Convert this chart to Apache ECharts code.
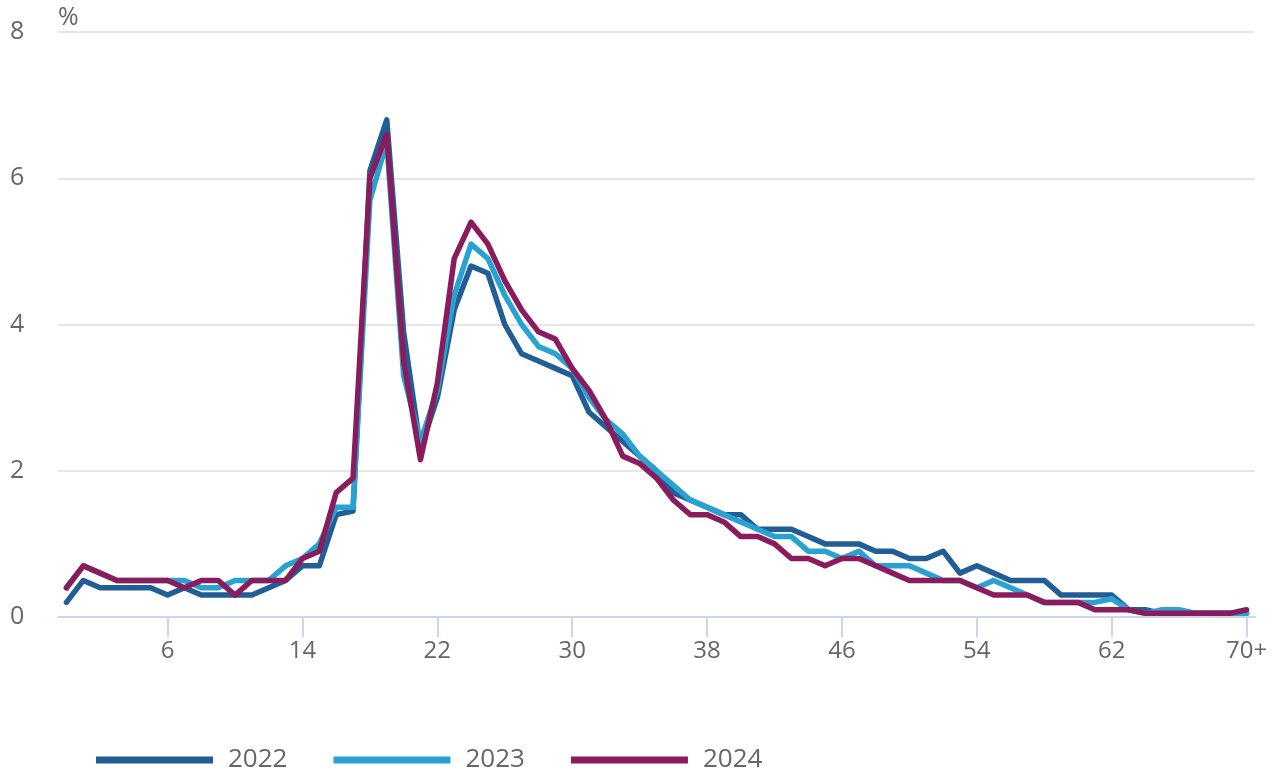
<!DOCTYPE html>
<html>
<head>
<meta charset="utf-8">
<title>Age distribution</title>
<script src="https://cdn.jsdelivr.net/npm/echarts@6/dist/echarts.min.js"></script>
<style>
  html, body { margin: 0; padding: 0; background: #fff; }
  #chart { width: 1276px; height: 775px; }
</style>
</head>
<body>
<div id="chart"></div>
<script>
// ---- data ----
const ages = [
  '0', '1', '2', '3', '4', '5', '6', '7', '8', '9',
  '10', '11', '12', '13', '14', '15', '16', '17', '18', '19',
  '20', '21', '22', '23', '24', '25', '26', '27', '28', '29',
  '30', '31', '32', '33', '34', '35', '36', '37', '38', '39',
  '40', '41', '42', '43', '44', '45', '46', '47', '48', '49',
  '50', '51', '52', '53', '54', '55', '56', '57', '58', '59',
  '60', '61', '62', '63', '64', '65', '66', '67', '68', '69',
  '70+'
];

const years = ['2022', '2023', '2024'];

const v2022 = [
  0.2, 0.5, 0.4, 0.4, 0.4, 0.4, 0.3, 0.4, 0.3, 0.3,
  0.3, 0.3, 0.4, 0.5, 0.7, 0.7, 1.4, 1.45, 6.1, 6.8,
  3.9, 2.3, 3.0, 4.2, 4.8, 4.7, 4.0, 3.6, 3.5, 3.4,
  3.3, 2.8, 2.6, 2.4, 2.2, 2.0, 1.7, 1.6, 1.5, 1.4,
  1.4, 1.2, 1.2, 1.2, 1.1, 1.0, 1.0, 1.0, 0.9, 0.9,
  0.8, 0.8, 0.9, 0.6, 0.7, 0.6, 0.5, 0.5, 0.5, 0.3,
  0.3, 0.3, 0.3, 0.1, 0.1, 0.05, 0.05, 0.05, 0.05, 0.05,
  0.05
];

const v2023 = [
  0.4, 0.7, 0.6, 0.5, 0.5, 0.5, 0.5, 0.5, 0.4, 0.4,
  0.5, 0.5, 0.5, 0.7, 0.8, 1.0, 1.5, 1.5, 5.7, 6.5,
  3.3, 2.4, 3.1, 4.4, 5.1, 4.9, 4.4, 4.0, 3.7, 3.6,
  3.4, 3.0, 2.7, 2.5, 2.2, 2.0, 1.8, 1.6, 1.5, 1.4,
  1.3, 1.2, 1.1, 1.1, 0.9, 0.9, 0.8, 0.9, 0.7, 0.7,
  0.7, 0.6, 0.5, 0.5, 0.4, 0.5, 0.4, 0.3, 0.2, 0.2,
  0.2, 0.2, 0.25, 0.1, 0.05, 0.1, 0.1, 0.05, 0.05, 0.05,
  0.05
];

const v2024 = [
  0.4, 0.7, 0.6, 0.5, 0.5, 0.5, 0.5, 0.4, 0.5, 0.5,
  0.3, 0.5, 0.5, 0.5, 0.8, 0.9, 1.7, 1.9, 6.0, 6.6,
  3.5, 2.15, 3.2, 4.9, 5.4, 5.1, 4.6, 4.2, 3.9, 3.8,
  3.4, 3.1, 2.7, 2.2, 2.1, 1.9, 1.6, 1.4, 1.4, 1.3,
  1.1, 1.1, 1.0, 0.8, 0.8, 0.7, 0.8, 0.8, 0.7, 0.6,
  0.5, 0.5, 0.5, 0.5, 0.4, 0.3, 0.3, 0.3, 0.2, 0.2,
  0.2, 0.1, 0.1, 0.1, 0.05, 0.05, 0.05, 0.05, 0.05, 0.05,
  0.1
];

const colors = ['#215e95', '#28a2d1', '#8a1b5d'];

// labels/ticks at 6, 14, 22 ... 70+
function showTick(index) {
  return index % 8 === 6;
}

const textColor = '#666666';
const fontFamily = '"Open Sans", "Noto Sans", sans-serif';

const chart = echarts.init(document.getElementById('chart'), null, { renderer: 'canvas' });

const seriesData = [v2022, v2023, v2024].map((vals, i) => ({
  name: years[i],
  type: 'line',
  data: vals,
  symbol: 'none',
  lineStyle: { width: 5.5, color: colors[i], join: 'round', cap: 'round' },
  itemStyle: { color: colors[i] },
  emphasis: { disabled: true }
}));

chart.setOption({
  animation: false,
  backgroundColor: '#ffffff',
  color: colors,
  grid: { left: 58, right: 21, top: 32, bottom: 158, containLabel: false },
  legend: {
    left: 96,
    top: 747,
    padding: 0,
    icon: 'rect',
    itemWidth: 117,
    itemHeight: 7,
    itemGap: 46,
    data: years,
    textStyle: {
      color: textColor,
      fontSize: 26,
      fontFamily: fontFamily,
      padding: [0, 0, 0, 10]
    }
  },
  xAxis: {
    type: 'category',
    data: ages,
    boundaryGap: true,
    axisLine: { lineStyle: { color: '#ccd6eb', width: 2 } },
    axisTick: {
      show: true,
      alignWithLabel: true,
      interval: showTick,
      length: 20,
      lineStyle: { color: '#ccd6eb', width: 2 }
    },
    axisLabel: {
      interval: showTick,
      color: textColor,
      fontSize: 24,
      fontFamily: fontFamily,
      margin: 22
    },
    splitLine: { show: false }
  },
  yAxis: {
    type: 'value',
    min: 0,
    max: 8,
    interval: 2,
    name: '%',
    nameLocation: 'end',
    nameGap: 2,
    nameTextStyle: {
      color: textColor,
      fontSize: 25,
      fontFamily: fontFamily,
      align: 'left'
    },
    axisLine: { show: false },
    axisTick: { show: false },
    axisLabel: {
      color: textColor,
      fontSize: 25,
      fontFamily: fontFamily,
      align: 'left',
      margin: 48,
      padding: [6, 0, 0, 0]
    },
    splitLine: { lineStyle: { color: '#e6e6e6', width: 2 } }
  },
  series: seriesData
});
</script>
</body>
</html>
